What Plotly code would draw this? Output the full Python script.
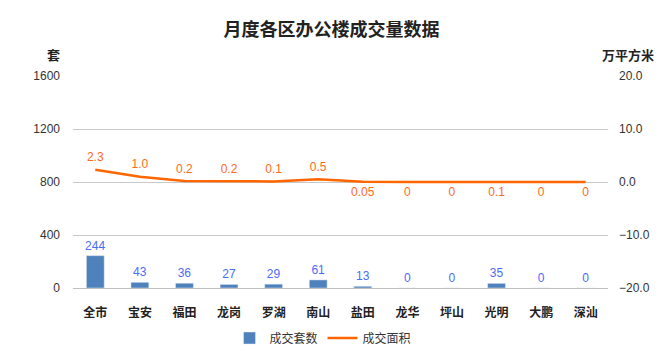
import plotly.graph_objects as go

categories = ["全市", "宝安", "福田", "龙岗", "罗湖", "南山", "盐田", "龙华", "坪山", "光明", "大鹏", "深汕"]
units = [244, 43, 36, 27, 29, 61, 13, 0, 0, 35, 0, 0]
area = [2.3, 1.0, 0.2, 0.2, 0.1, 0.5, 0.05, 0, 0, 0.1, 0, 0]
area_labels = ["2.3", "1.0", "0.2", "0.2", "0.1", "0.5", "0.05", "0", "0", "0.1", "0", "0"]
left_ticks = [0, 400, 800, 1200, 1600]
right_ticks = [-20, -10, 0, 10, 20]

font_cjk = "Noto Sans CJK SC, Microsoft YaHei, sans-serif"

L, R, T, B = 73, 55, 76, 63
W, H = 663, 351
pw = W - L - R
ph = H - T - B

fig = go.Figure()
fig.add_trace(go.Bar(
    x=categories, y=units, name="成交套数",
    marker_color="#4F81BD", width=0.4,
    text=[str(v) for v in units], textposition="outside", constraintext="none",
    textfont=dict(color="#4A6CF7", size=12, family="Liberation Sans, Arial"),
    cliponaxis=False,
))
fig.add_trace(go.Scatter(
    x=categories, y=area, name="成交面积", yaxis="y2", mode="lines",
    line=dict(color="#FF6600", width=2.5),
))
fig.add_trace(go.Scatter(
    x=categories, y=area, yaxis="y2", mode="markers+text", showlegend=False, hoverinfo="skip",
    marker=dict(size=7, opacity=0, color="#FF6600"),
    text=area_labels,
    textposition=["top center"] * 6 + ["bottom center"] * 6,
    textfont=dict(color="#FF6A1A", size=12, family="Liberation Sans, Arial"),
    cliponaxis=False,
))

def px2paper(px, py):
    return (px - L) / pw, (H - B - py) / ph

ax1, ay1 = px2paper(53, 55)
ax2, ay2 = px2paper(628, 55)

fig.update_layout(
    width=W, height=H,
    margin=dict(l=L, r=R, t=T, b=B),
    plot_bgcolor="white", paper_bgcolor="white",
    title=dict(text="<b>月度各区办公楼成交量数据</b>", x=0.5, xanchor="center", y=0.915, yanchor="middle",
               font=dict(size=18, color="#222", family=font_cjk)),
    xaxis=dict(tickfont=dict(size=12, color="#222", family=font_cjk), showline=True, linecolor="#BFBFBF",
               ticks="", ticklabelstandoff=14, automargin=False, range=[-0.5, len(categories) - 0.5],
               tickvals=categories, ticktext=["<b>%s</b>" % c for c in categories]),
    yaxis=dict(range=[0, 1600], tickvals=left_ticks, showgrid=True, gridcolor="#C8C8C8",
               tickfont=dict(size=12, color="#333", family="Liberation Sans, Arial"), zeroline=False,
               ticklabelstandoff=12, automargin=False),
    yaxis2=dict(range=[-20, 20], tickvals=right_ticks, tickformat=".1f", overlaying="y", side="right",
                showgrid=False, zeroline=False, automargin=False,
                tickfont=dict(size=12, color="#333", family="Liberation Sans, Arial"),
                ticklabelstandoff=10),
    legend=dict(orientation="h", xref="container", yref="container", x=323 / W, xanchor="center",
                y=(H - 338) / H, yanchor="middle",
                font=dict(size=12, color="#333", family=font_cjk)),
    bargap=0.6,
    annotations=[
        dict(text="<b>套</b>", x=ax1, y=ay1, xref="paper", yref="paper", showarrow=False,
             xanchor="center", yanchor="middle",
             font=dict(size=13, color="#222", family=font_cjk)),
        dict(text="<b>万平方米</b>", x=ax2, y=ay2, xref="paper", yref="paper", showarrow=False,
             xanchor="center", yanchor="middle",
             font=dict(size=13, color="#222", family=font_cjk)),
    ],
)

fig.write_html("out.html")
